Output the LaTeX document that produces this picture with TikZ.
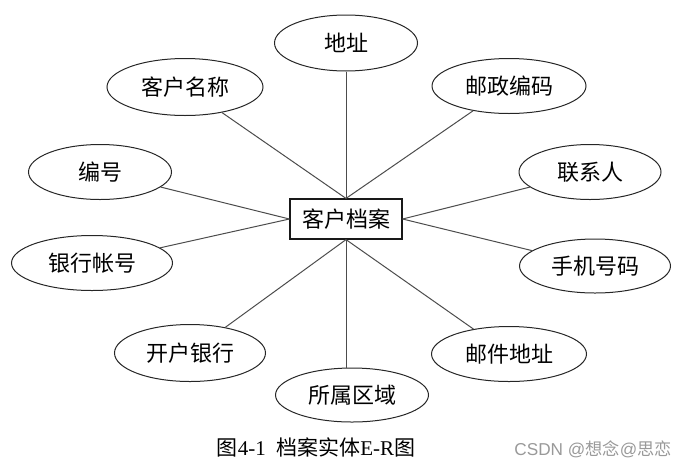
\documentclass[tikz,border=0pt]{standalone}
\usepackage{fontspec}
\setmainfont{Noto Sans CJK SC}
\newfontfamily\latinserif{Liberation Serif}
\newfontfamily\wmlatin{Liberation Sans}
\usetikzlibrary{shapes.geometric}
\begin{document}
\begin{tikzpicture}[x=0.5pt, y=-0.5pt,
  attr/.style={ellipse, draw=black!85, line width=0.5pt, inner sep=0pt,
    minimum height=27.5pt, font=\fontsize{11pt}{13pt}\selectfont},
  entity/.style={rectangle, draw=black!90, line width=0.6pt, inner sep=0pt,
    minimum width=56pt, minimum height=20pt, font=\fontsize{11pt}{13pt}\selectfont},
  link/.style={draw=black!70, line width=0.5pt}]
 \useasboundingbox (0,0) rectangle (688,466);
 % entity
 \node[entity] (dangan) at (346,219) {客户档案};
 % attributes
 \node[attr, minimum width=71.5pt, minimum height=28pt] (dizhi) at (346,43) {地址};
 \node[attr, minimum width=78pt, minimum height=28.5pt] (mingcheng) at (185,87) {客户名称};
 \node[attr, minimum width=77pt] (youbian) at (509,86) {邮政编码};
 \node[attr, minimum width=71.5pt] (bianhao) at (100,172) {编号};
 \node[attr, minimum width=71pt] (lianxi) at (590,172) {联系人};
 \node[attr, minimum width=80.5pt] (zhanghao) at (92,263) {银行帐号};
 \node[attr, minimum width=75.5pt, minimum height=27pt] (shouji) at (595,266) {手机号码};
 \node[attr, minimum width=75.5pt, minimum height=28.5pt] (kaihu) at (190,353) {开户银行};
 \node[attr, minimum width=77.5pt] (youjian) at (509,354) {邮件地址};
 \node[attr, minimum width=76.5pt, minimum height=27pt] (quyu) at (352,395) {所属区域};
 % connectors
 \draw[link] (dizhi) -- (dangan.north);
 \draw[link] (mingcheng) -- (dangan.north);
 \draw[link] (youbian) -- (dangan.north);
 \draw[link] (bianhao) -- (dangan.west);
 \draw[link] (zhanghao) -- (dangan.west);
 \draw[link] (lianxi) -- (dangan.east);
 \draw[link] (shouji) -- (dangan.east);
 \draw[link] (kaihu) -- (dangan.south);
 \draw[link] (youjian) -- (dangan.south);
 \draw[link] (dangan.south) -- (dangan.south |- quyu.north);
 % caption
 \node[font=\fontsize{10.5pt}{12pt}\selectfont] (caption) at (316,447)
   {图{\latinserif 4-1\ \ }档案实体{\latinserif E-R}图};
 \node[text=black!40, font=\fontsize{8.6pt}{10pt}\selectfont] (mark) at (593,449)
   {{\wmlatin CSDN @}想念{\wmlatin @}思恋};
\end{tikzpicture}
\end{document}
